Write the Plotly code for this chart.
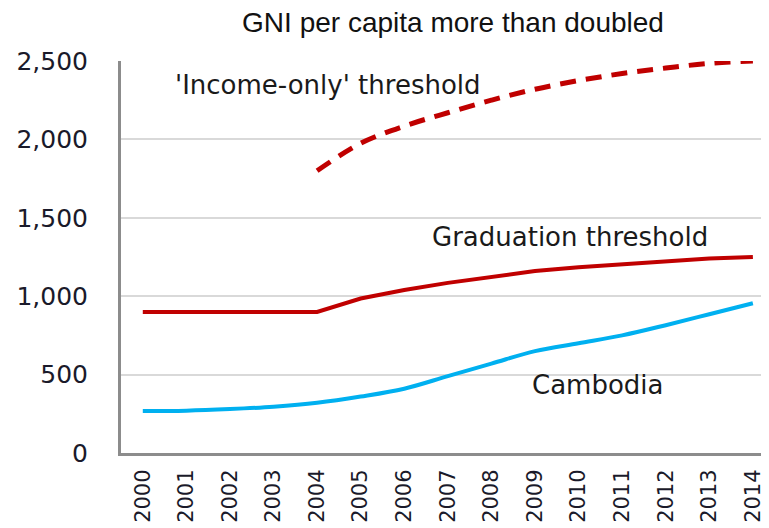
import plotly.graph_objects as go

years = [str(y) for y in range(2000, 2015)]
cambodia = [268, 270, 280, 295, 320, 360, 410, 490, 570, 650, 700, 750, 815, 885, 955]
graduation = [900, 900, 900, 900, 900, 985, 1040, 1085, 1125, 1160, 1185, 1205, 1225, 1240, 1250]
income_years = years[4:]
income_only = [1800, 1975, 2085, 2170, 2250, 2320, 2375, 2420, 2455, 2485, 2500]
y_ticks = [0, 500, 1000, 1500, 2000, 2500]

# the page body has an 8px margin, so the figure is drawn 8px smaller and offset
W, H = 761, 520

fig = go.Figure()
fig.add_trace(go.Scatter(x=years, y=graduation, mode="lines",
                         line=dict(color="#c00000", width=4)))
fig.add_trace(go.Scatter(x=income_years, y=income_only, mode="lines",
                         line=dict(color="#c00000", width=5, dash="16px,10px", shape="spline")))
fig.add_trace(go.Scatter(x=years, y=cambodia, mode="lines",
                         line=dict(color="#00b0f0", width=4, shape="spline")))

label_font = dict(family="DejaVu Sans, sans-serif", size=26, color="#1a1a1a")
fig.add_annotation(x=0.69, y=2347, text="'Income-only' threshold", showarrow=False,
                   xanchor="left", font=label_font)
fig.add_annotation(x=9.81, y=1378, text="Graduation threshold", showarrow=False,
                   xanchor="center", font=label_font)
fig.add_annotation(x=8.89, y=434, text="Cambodia", showarrow=False,
                   xanchor="left", font=label_font)

fig.update_layout(
    width=W, height=H,
    margin=dict(l=113, r=0, t=53, b=75),
    paper_bgcolor="white", plot_bgcolor="white",
    showlegend=False,
    title=dict(text="GNI per capita more than doubled", x=445/W, xanchor="center",
               xref="container", y=1-14/H, yanchor="middle",
               font=dict(family="Arial, Liberation Sans, sans-serif", size=28, color="#111")),
    xaxis=dict(type="category", range=[-0.5, 14.37], tickangle=-90, automargin=False,
               showline=True, linecolor="#8c8c8c", linewidth=3, showgrid=False,
               ticks="", ticklabelstandoff=5,
               tickfont=dict(family="DejaVu Sans, sans-serif", size=21, color="#1a1a2a")),
    yaxis=dict(range=[0, 2500], tickvals=y_ticks, tickformat=",", automargin=False,
               showline=True, linecolor="#8c8c8c", linewidth=3,
               showgrid=True, gridcolor="#d9d9d9", gridwidth=1.5, zeroline=False,
               ticks="", ticklabelstandoff=25,
               tickfont=dict(family="DejaVu Sans, sans-serif", size=25, color="#1a1a2a")),
)
fig.write_html("out.html")
